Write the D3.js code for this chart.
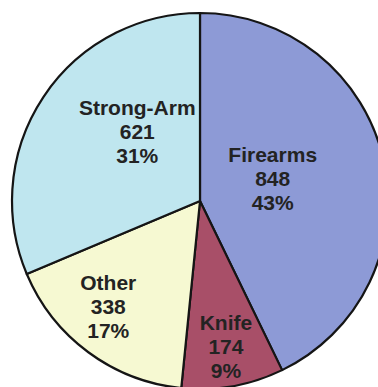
<!DOCTYPE html>
<html>
<head>
<meta charset="utf-8">
<script src="https://cdn.jsdelivr.net/npm/d3@7"></script>
<style>
  html, body { margin: 0; padding: 0; background: #ffffff; overflow: hidden; }
  svg { display: block; }
</style>
</head>
<body>
<svg id="chart" width="378" height="387"></svg>
<script>
// ---- data ----
const categories = ["Firearms", "Knife", "Other", "Strong-Arm"];
const counts = [848, 174, 338, 621];
const percentLabels = ["43%", "9%", "17%", "31%"];
const colors = ["#8d9ad6", "#a84f68", "#f6f9d2", "#bfe6ef"];

// ---- layout (label placement, polar) ----
const labelRadius = [76, 148, 140, 93];
const labelAngleNudge = [-4, 0, 4.5, 14]; // degrees

const width = 378, height = 387;
const cx = 200, cy = 201, radius = 188;

const svg = d3.select("#chart");
const g = svg.append("g").attr("transform", `translate(${cx},${cy})`);

const data = categories.map((c, i) => ({ name: c, value: counts[i], pct: percentLabels[i], color: colors[i], i }));

const pie = d3.pie().sort(null).value(d => d.value);
const arcs = pie(data);
const arc = d3.arc().innerRadius(0).outerRadius(radius);

g.selectAll("path.slice")
  .data(arcs)
  .join("path")
  .attr("class", "slice")
  .attr("d", arc)
  .attr("fill", d => d.data.color)
  .attr("stroke", "#151515")
  .attr("stroke-width", 2.2)
  .attr("stroke-linejoin", "round");

const lineH = 24;
const labels = g.selectAll("g.label")
  .data(arcs)
  .join("g")
  .attr("class", "label")
  .attr("transform", d => {
    const i = d.data.i;
    const a = (d.startAngle + d.endAngle) / 2 + labelAngleNudge[i] * Math.PI / 180;
    const r = labelRadius[i];
    const x = r * Math.sin(a), y = -r * Math.cos(a);
    return `translate(${x},${y})`;
  });

labels.each(function(d) {
  const lines = [d.data.name, String(d.data.value), d.data.pct];
  d3.select(this).selectAll("text")
    .data(lines)
    .join("text")
    .attr("x", 0)
    .attr("y", (t, k) => 7 + (k - 1) * lineH)
    .attr("text-anchor", "middle")
    .attr("font-family", "'Liberation Sans', Arial, sans-serif")
    .attr("font-weight", "bold")
    .attr("font-size", 21)
    .attr("fill", "#232323")
    .text(t => t);
});
</script>
</body>
</html>
